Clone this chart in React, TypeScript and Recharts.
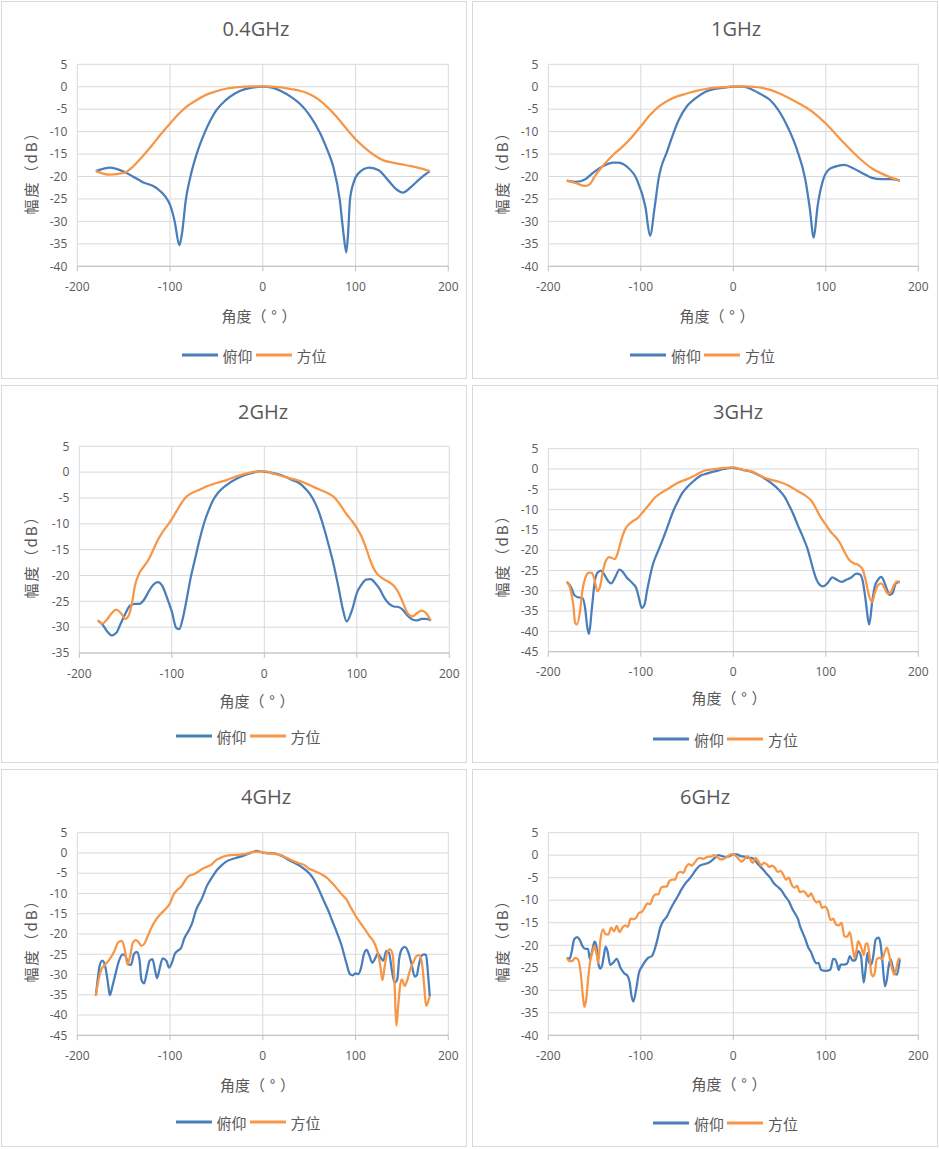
import React from 'react';
import { LineChart, Line, XAxis, YAxis, CartesianGrid } from 'recharts';

// ---- tick labels / categories ----
const xTicks = [-200, -100, 0, 100, 200];
const yTicks40 = [-40, -35, -30, -25, -20, -15, -10, -5, 0, 5];
const yTicks35 = [-35, -30, -25, -20, -15, -10, -5, 0, 5];
const yTicks45 = [-45, -40, -35, -30, -25, -20, -15, -10, -5, 0, 5];
const seriesNames = ['俯仰', '方位'];
const panelTitles = ['0.4GHz', '1GHz', '2GHz', '3GHz', '4GHz', '6GHz'];
const xTitleParts = ['角度（', '°', '）'];
const yTitle = '幅度（dB）';

// ---- 0.4GHz ----
const elev04Deg = [-180, -165, -150, -140, -130, -115, -105, -100, -95, -90, -87, -83, -78, -71, -63, -50, -40, -30, -20, -10, 0, 10, 20, 30, 40, 50, 62, 70, 76, 83, 87, 90, 92, 94, 98, 103, 115, 125, 135, 145, 151, 160, 170, 180];
const elev04Db = [-18.8, -18.0, -18.9, -20.0, -21.2, -22.5, -24.5, -26.3, -30.0, -35.3, -32.5, -25.2, -20.0, -14.8, -10.4, -5.2, -3.0, -1.5, -0.6, -0.15, 0, -0.2, -1.0, -2.2, -3.8, -6.2, -10.4, -14.3, -17.8, -25.2, -32.7, -36.9, -32.5, -25.2, -21.3, -19.3, -18.0, -18.6, -20.8, -23.0, -23.6, -22.3, -20.4, -18.8];
const azim04Deg = [-180, -165, -150, -140, -130, -120, -110, -100, -90, -80, -70, -60, -50, -40, -30, -20, -10, 0, 10, 20, 30, 40, 50, 60, 70, 80, 90, 100, 110, 120, 130, 140, 150, 160, 170, 180];
const azim04Db = [-18.8, -19.6, -19.2, -17.8, -15.6, -13.2, -10.6, -8.2, -5.9, -4.1, -2.8, -1.7, -1.0, -0.45, -0.15, 0, 0.1, 0.1, 0, -0.15, -0.5, -0.9, -1.6, -2.8, -4.6, -6.8, -9.3, -11.7, -13.6, -15.2, -16.4, -16.9, -17.3, -17.7, -18.2, -18.8];

// ---- 1GHz ----
const elev1Deg = [-180, -170, -160, -150, -140, -130, -125, -115, -104, -95, -90, -85, -81, -71, -59, -50, -41, -30, -20, -10, 0, 10, 20, 30, 40, 48, 55, 62, 69, 78, 82.5, 87, 91, 97, 103, 110, 120, 130, 140, 150, 160, 170, 180];
const elev1Db = [-20.9, -21.2, -20.6, -18.9, -17.6, -16.9, -16.9, -17.8, -20.8, -26.8, -33.2, -26.8, -20.8, -14.1, -7.4, -4.3, -2.6, -1.1, -0.5, -0.2, 0, 0, -0.6, -1.7, -3.0, -5.0, -7.4, -10.4, -14.1, -20.8, -26.8, -33.6, -26.8, -20.8, -18.5, -17.8, -17.4, -18.2, -19.3, -20.3, -20.6, -20.6, -20.9];
const azim1Deg = [-180, -170, -160, -155, -150, -140, -130, -120, -110, -100, -90, -80, -70, -60, -50, -40, -30, -20, -10, 0, 10, 20, 30, 40, 50, 60, 70, 80, 90, 100, 110, 120, 130, 140, 150, 160, 170, 180];
const azim1Db = [-20.9, -21.5, -22.1, -21.7, -20.0, -17.4, -15.2, -13.4, -11.3, -8.8, -6.3, -4.3, -3.0, -2.1, -1.5, -0.9, -0.5, -0.2, -0.1, 0.1, 0.1, 0, -0.2, -0.7, -1.5, -2.5, -3.6, -4.8, -6.3, -8.2, -10.4, -12.6, -14.7, -16.6, -18.2, -19.3, -20.2, -20.9];

// ---- 2GHz ----
const elev2Deg = [-180, -175, -170, -165, -160, -155, -150, -145, -140, -135, -130, -125, -120, -115, -110, -105, -100, -95, -92, -88, -84, -80, -75, -70, -65, -60, -55, -50, -40, -30, -20, -10, -5, 0, 10, 20, 30, 40, 45, 50, 55, 60, 65, 70, 75, 80, 85, 89, 95, 100, 105, 110, 115, 120, 125, 130, 135, 140, 145, 150, 155, 160, 165, 170, 175, 180];
const elev2Db = [-28.7, -29.5, -30.8, -31.6, -31.1, -29.2, -27.3, -25.8, -25.5, -25.5, -24.7, -23.1, -21.8, -21.3, -22.1, -24.4, -27.0, -30.2, -30.4, -28.2, -24.7, -20.8, -16.9, -13.1, -9.8, -7.3, -5.3, -4.0, -2.4, -1.3, -0.5, 0, 0.2, 0.1, -0.2, -0.7, -1.5, -2.4, -3.3, -4.4, -6.0, -8.2, -11.1, -14.4, -17.9, -22.1, -26.6, -28.9, -26.6, -23.4, -21.8, -20.8, -20.7, -21.5, -22.7, -24.4, -25.5, -26.0, -26.1, -26.7, -27.8, -28.5, -28.7, -28.4, -28.4, -28.7];
const azim2Deg = [-180, -175, -170, -165, -160, -155, -150, -147, -143, -140, -135, -130, -125, -120, -115, -110, -105, -100, -95, -90, -85, -80, -70, -60, -50, -40, -30, -20, -10, 0, 10, 20, 30, 40, 50, 60, 70, 75, 80, 85, 90, 95, 100, 105, 110, 115, 120, 125, 130, 135, 140, 145, 150, 155, 160, 165, 170, 175, 180];
const azim2Db = [-28.7, -29.3, -28.5, -27.3, -26.6, -27.3, -28.4, -27.9, -25.3, -22.1, -19.5, -18.2, -16.9, -15.0, -13.1, -11.6, -10.4, -9.1, -7.6, -6.1, -4.9, -4.2, -3.4, -2.6, -2.0, -1.5, -0.8, -0.3, 0.1, 0.2, -0.3, -0.8, -1.3, -1.8, -2.6, -3.4, -4.2, -4.8, -5.8, -7.1, -8.4, -9.5, -10.8, -12.4, -14.7, -17.3, -19.2, -20.2, -20.8, -21.3, -22.0, -23.3, -25.3, -27.3, -27.9, -27.3, -26.8, -27.3, -28.7];

// ---- 3GHz ----
const elev3Deg = [-180, -175, -172, -168, -163, -160, -158, -156, -153, -150, -147, -143, -140, -135, -132, -128, -123, -120, -115, -110, -105, -102, -99, -96, -93, -90, -87, -83, -80, -75, -70, -65, -60, -55, -50, -45, -40, -35, -30, -20, -10, -3, 0, 10, 20, 30, 40, 50, 55, 60, 65, 70, 75, 80, 85, 88, 92, 97, 102, 107, 112, 117, 122, 127, 133, 137, 140, 143, 146, 147, 150, 153, 157, 160, 163, 166, 169, 172, 176, 180];
const elev3Db = [-27.8, -29.3, -31.0, -31.6, -31.8, -34.6, -38.8, -40.6, -34.6, -28.1, -25.6, -25.0, -25.8, -27.7, -28.2, -26.8, -24.8, -25.2, -26.8, -27.9, -29.3, -31.8, -34.2, -33.4, -29.7, -26.4, -23.6, -21.1, -19.5, -16.6, -13.5, -10.4, -8.0, -5.9, -4.5, -3.4, -2.4, -1.6, -1.2, -0.6, 0, 0.3, 0.25, -0.2, -0.7, -1.8, -3.3, -5.3, -6.7, -8.8, -11.2, -14.0, -16.6, -19.5, -23.6, -26.0, -28.1, -28.9, -28.1, -26.7, -27.3, -27.8, -27.3, -26.8, -25.8, -26.0, -27.7, -32.2, -37.5, -38.3, -33.0, -28.9, -27.1, -26.6, -27.7, -29.6, -31.0, -30.6, -28.1, -27.8];
const azim3Deg = [-180, -176, -173, -171, -169, -166, -163, -160, -156, -153, -150, -147, -144, -141, -138, -134, -128, -125, -121, -117, -110, -103, -97, -90, -85, -80, -70, -60, -50, -40, -30, -20, -10, 0, 10, 20, 30, 40, 50, 60, 70, 80, 85, 90, 95, 100, 105, 110, 115, 120, 125, 130, 135, 140, 143, 147, 150, 153, 157, 160, 163, 167, 170, 174, 177, 180];
const azim3Db = [-27.7, -29.7, -33.4, -37.9, -38.3, -35.5, -29.7, -26.8, -25.5, -25.6, -27.3, -30.1, -28.9, -25.2, -22.7, -21.7, -22.2, -20.7, -17.4, -14.9, -13.1, -12.0, -10.4, -8.5, -7.1, -6.2, -4.8, -3.4, -2.5, -1.4, -0.3, 0, 0.25, 0.4, -0.2, -0.6, -1.8, -2.6, -3.2, -4.1, -5.5, -6.9, -8.0, -10.0, -12.1, -13.7, -15.4, -16.6, -18.1, -20.3, -22.3, -23.2, -23.6, -24.8, -27.3, -31.4, -32.8, -30.5, -28.5, -28.2, -29.1, -30.7, -30.4, -28.5, -27.7, -27.8];

// ---- 4GHz ----
const elev4Deg = [-180, -178, -176, -173, -170, -167, -165, -162, -158, -155, -151, -148, -145, -142, -139, -136, -133, -131, -128, -125, -122, -119, -116, -114, -111, -108, -104, -101, -98, -95, -92, -88, -85, -80, -76, -72, -66, -60, -55, -50, -45, -40, -30, -20, -10, -7, 0, 10, 15, 20, 30, 40, 50, 55, 60, 65, 70, 75, 80, 85, 90, 94, 97, 100, 103, 106, 109, 112, 115, 118, 121, 124, 127, 130, 133, 136, 139, 142, 145, 147, 150, 153, 157, 160, 164, 166, 168, 171, 174, 176, 178, 180];
const elev4Db = [-35.3, -31.2, -27.9, -26.6, -27.9, -32.0, -35.1, -32.8, -29.1, -26.6, -25.0, -25.4, -27.5, -27.6, -25.0, -24.4, -26.2, -31.2, -32.2, -29.5, -26.6, -26.2, -29.1, -30.9, -28.3, -26.0, -26.6, -28.3, -27.1, -25.0, -24.2, -23.4, -21.3, -19.2, -17.2, -14.1, -11.4, -8.0, -6.1, -4.4, -3.2, -2.2, -1.3, -0.6, 0.3, 0.5, 0.1, -0.1, -0.25, -0.7, -2.0, -3.2, -5.0, -6.5, -8.8, -11.4, -13.9, -16.8, -19.7, -22.9, -27.1, -29.9, -30.2, -29.7, -29.9, -28.3, -25.0, -23.9, -25.4, -27.1, -26.1, -24.8, -25.8, -26.6, -24.2, -24.6, -28.7, -32.0, -31.2, -26.2, -23.7, -23.2, -24.6, -27.1, -30.5, -30.2, -27.9, -25.4, -25.0, -25.2, -29.5, -35.3];
const azim4Deg = [-180, -177, -174, -170, -165, -160, -156, -152, -149, -146, -143, -140, -137, -134, -131, -128, -124, -120, -115, -110, -105, -100, -96, -92, -88, -84, -80, -75, -70, -65, -60, -55, -50, -45, -40, -30, -20, -10, -5, 0, 5, 10, 20, 25, 30, 35, 40, 45, 50, 55, 60, 65, 70, 75, 80, 85, 90, 95, 100, 105, 110, 115, 120, 124, 127, 129, 131, 134, 137, 140, 142, 144, 146, 148, 150, 153, 156, 159, 162, 166, 169, 172, 174, 176, 178, 180];
const azim4Db = [-35.3, -31.2, -28.7, -27.6, -26.2, -24.2, -22.1, -21.7, -23.7, -27.5, -25.4, -22.1, -21.5, -22.0, -22.9, -22.5, -20.5, -18.4, -16.4, -15.0, -13.9, -12.4, -10.2, -9.1, -8.3, -6.9, -5.7, -5.3, -4.7, -3.9, -3.4, -2.8, -1.7, -1.15, -0.7, -0.5, -0.3, 0.25, 0.3, 0.15, -0.1, -0.15, -0.6, -1.15, -1.7, -2.2, -2.6, -3.0, -3.9, -4.4, -4.9, -5.5, -6.3, -7.5, -8.8, -10.2, -11.4, -13.5, -15.5, -17.2, -18.8, -20.5, -22.1, -24.6, -28.3, -31.4, -28.7, -24.6, -23.8, -25.0, -32.0, -42.7, -37.7, -32.8, -31.2, -32.8, -31.2, -28.7, -27.1, -25.4, -25.2, -27.9, -32.8, -37.7, -36.9, -35.3];

// ---- 6GHz ----
const elev6Deg = [-180, -177, -175, -172, -169, -166, -163, -160, -157, -155, -153, -150, -148, -146, -144, -142, -140, -138, -136, -133, -130, -126, -122, -118, -114, -112, -110, -108, -105, -102, -99, -95, -92, -88, -85, -82, -79, -75, -72, -68, -64, -60, -56, -52, -48, -44, -40, -36, -32, -28, -24, -20, -16, -12, -8, -4, 0, 4, 8, 12, 16, 20, 24, 28, 32, 36, 40, 44, 48, 52, 56, 60, 64, 68, 70, 72, 75, 78, 81, 84, 87, 90, 92, 95, 100, 105, 108, 110, 112, 114, 116, 119, 123, 126, 129, 132, 135, 138, 141, 143, 145, 147, 149, 151, 154, 157, 159, 161, 164, 166, 168, 170, 172, 174, 177, 180];
const elev6Db = [-22.8, -23.0, -21.7, -18.7, -18.2, -18.8, -20.2, -20.8, -20.8, -23.1, -21.7, -19.2, -20.2, -23.9, -25.2, -24.6, -22.4, -20.3, -21.3, -24.4, -23.9, -23.0, -25.0, -26.2, -26.9, -28.3, -31.3, -32.5, -29.8, -26.1, -24.8, -23.5, -22.8, -22.4, -20.9, -18.7, -16.1, -14.4, -13.7, -12.0, -10.5, -9.1, -7.6, -6.3, -5.4, -4.3, -3.1, -2.3, -2.0, -1.8, -1.3, -0.6, 0, -0.2, -0.4, -0.2, 0.2, 0.2, -0.2, -0.3, -0.6, -0.6, -1.3, -2.3, -3.1, -4.1, -5.0, -6.3, -7.0, -7.8, -9.1, -10.2, -12.0, -13.4, -14.2, -15.7, -17.2, -18.7, -20.5, -21.5, -23.1, -24.0, -23.9, -25.5, -25.7, -25.4, -23.0, -23.1, -24.0, -25.5, -24.3, -24.3, -24.1, -22.4, -23.4, -23.3, -21.3, -22.4, -28.3, -25.4, -21.7, -23.9, -24.3, -22.8, -18.7, -18.3, -19.4, -23.1, -29.1, -27.6, -24.6, -23.1, -24.5, -26.1, -26.5, -23.1];
const azim6Deg = [-180, -177, -174, -171, -168, -165, -163, -161, -159, -157, -155, -152, -150, -148, -146, -144, -141, -138, -135, -132, -129, -126, -123, -120, -117, -114, -111, -108, -105, -102, -99, -96, -93, -90, -87, -84, -81, -78, -75, -72, -69, -66, -63, -60, -57, -54, -51, -48, -45, -42, -39, -36, -33, -30, -27, -24, -21, -18, -15, -12, -9, -6, -3, 0, 3, 6, 9, 12, 15, 18, 21, 24, 27, 30, 33, 36, 39, 42, 45, 48, 51, 54, 57, 60, 63, 66, 69, 72, 75, 78, 81, 84, 87, 90, 93, 96, 99, 102, 105, 108, 111, 114, 117, 120, 123, 126, 129, 131, 133, 135, 137, 139, 141, 143, 145, 147, 149, 151, 153, 155, 158, 161, 164, 166, 168, 171, 174, 176, 178, 180];
const azim6Db = [-22.8, -23.5, -23.5, -22.8, -23.1, -26.1, -30.5, -33.7, -32.0, -27.6, -23.9, -21.3, -20.2, -21.7, -23.9, -19.4, -16.5, -17.6, -17.6, -16.1, -16.9, -15.7, -17.1, -16.1, -15.6, -15.9, -14.1, -14.2, -13.9, -12.8, -12.6, -11.7, -10.7, -10.9, -9.4, -8.7, -8.7, -7.2, -7.0, -7.0, -5.7, -5.4, -5.4, -4.0, -3.7, -3.9, -2.6, -2.0, -2.3, -1.7, -0.9, -0.6, -0.8, -0.6, -0.3, -0.3, 0, -0.3, -0.8, -0.9, -0.6, -0.3, 0.2, 0.2, -0.2, -0.9, -1.4, -0.9, -0.2, -0.8, -1.7, -0.6, -1.3, -2.3, -1.7, -2.0, -2.6, -2.3, -2.8, -3.7, -3.5, -4.3, -5.4, -5.0, -6.5, -7.2, -6.8, -8.2, -8.0, -8.3, -9.2, -8.5, -9.7, -10.5, -10.2, -11.7, -11.4, -12.2, -14.4, -14.1, -15.4, -15.6, -15.0, -18.0, -18.1, -17.1, -20.5, -22.8, -21.3, -19.1, -19.8, -20.9, -22.2, -19.8, -19.6, -21.9, -26.1, -26.9, -26.1, -23.1, -22.8, -23.1, -21.3, -20.5, -21.7, -24.6, -26.5, -25.4, -23.5, -22.8];

// ---- styling ----
const FONT = '"Open Sans", "Noto Sans CJK SC", sans-serif';
const CJK = '"Noto Sans CJK SC", sans-serif';
const TEXT = '#595959';
const BLUE = '#4A7EBB';
const ORANGE = '#F79646';
const GRID = '#D9D9D9';
const AXIS = '#BFBFBF';
const W = 466;
const H = 378;
const Y_AXIS_W = 40;
const X_AXIS_H = 30;

type Pt = { x: number; y: number };
const toPoints = (deg: number[], db: number[]): Pt[] => deg.map((x, i) => ({ x, y: db[i] }));

// layout of each panel (relative to the panel box)
const layouts = [
  { left: 1, top: 1, plot: [76.3, 63.3, 447.3, 265.3], title: [255, 27], xt: [258, 314], yt: [29, 168], lg: [254.5, 354] },
  { left: 472, top: 1, plot: [76.3, 63.3, 446.3, 265.3], title: [264, 27], xt: [245, 314], yt: [29, 168], lg: [232, 354] },
  { left: 1, top: 385, plot: [78.3, 61.3, 448.3, 268], title: [262, 25.7], xt: [256, 314.7], yt: [29, 168], lg: [248.5, 351] },
  { left: 472, top: 385, plot: [76.3, 63.7, 446.3, 266.7], title: [266, 25.7], xt: [257, 312], yt: [29, 167], lg: [255, 354] },
  { left: 1, top: 769, plot: [76.3, 63.7, 447.3, 266.3], title: [265, 27], xt: [256.5, 315], yt: [29, 168], lg: [248.5, 353] },
  { left: 472, top: 769, plot: [76.3, 63.7, 446.3, 266.3], title: [233, 27], xt: [257, 313.7], yt: [29, 168], lg: [255, 354] },
];

const panels = [
  { title: panelTitles[0], yTicks: yTicks40, elev: toPoints(elev04Deg, elev04Db), azim: toPoints(azim04Deg, azim04Db) },
  { title: panelTitles[1], yTicks: yTicks40, elev: toPoints(elev1Deg, elev1Db), azim: toPoints(azim1Deg, azim1Db) },
  { title: panelTitles[2], yTicks: yTicks35, elev: toPoints(elev2Deg, elev2Db), azim: toPoints(azim2Deg, azim2Db) },
  { title: panelTitles[3], yTicks: yTicks45, elev: toPoints(elev3Deg, elev3Db), azim: toPoints(azim3Deg, azim3Db) },
  { title: panelTitles[4], yTicks: yTicks45, elev: toPoints(elev4Deg, elev4Db), azim: toPoints(azim4Deg, azim4Db) },
  { title: panelTitles[5], yTicks: yTicks40, elev: toPoints(elev6Deg, elev6Db), azim: toPoints(azim6Deg, azim6Db) },
];

const tickStyle = { fill: TEXT, fontSize: 12, fontFamily: FONT };

const LegendItem: React.FC<{ color: string; label: string }> = ({ color, label }) => (
  <span style={{ display: 'inline-flex', alignItems: 'center' }}>
    <span style={{ display: 'inline-block', width: 36, height: 2.5, background: color, marginRight: 5 }} />
    <span style={{ fontFamily: CJK, fontSize: 15, color: TEXT, marginRight: 3 }}>{label}</span>
  </span>
);

const Panel: React.FC<{ idx: number }> = ({ idx }) => {
  const p = panels[idx];
  const l = layouts[idx];
  const [x0, y0, x1, y1] = l.plot;
  const margin = { top: y0, left: x0 - Y_AXIS_W, right: W - x1, bottom: H - y1 - X_AXIS_H };
  const yMin = p.yTicks[0];
  const yMax = p.yTicks[p.yTicks.length - 1];

  return (
    <div style={{ position: 'absolute', left: l.left, top: l.top, width: W, height: H }}>
      <div style={{ position: 'absolute', left: 0, top: 0, width: W, height: H, border: `1px solid ${GRID}`, boxSizing: 'border-box' }} />
      <div style={{ position: 'absolute', left: 0, top: 0 }}>
        <LineChart width={W} height={H} margin={margin}>
          <CartesianGrid stroke={GRID} />
          <XAxis
            type="number"
            dataKey="x"
            domain={[-200, 200]}
            ticks={xTicks}
            interval={0}
            height={X_AXIS_H}
            stroke={AXIS}
            tickSize={5}
            tickMargin={11}
            tick={tickStyle}
          />
          <YAxis
            type="number"
            domain={[yMin, yMax]}
            ticks={p.yTicks}
            interval={0}
            width={Y_AXIS_W}
            axisLine={false}
            tickLine={false}
            tickSize={0}
            tickMargin={10}
            tick={tickStyle}
          />
          <Line data={p.elev} dataKey="y" name={seriesNames[0]} type="monotone" stroke={BLUE} strokeWidth={2.25} dot={false} activeDot={false} isAnimationActive={false} />
          <Line data={p.azim} dataKey="y" name={seriesNames[1]} type="monotone" stroke={ORANGE} strokeWidth={2.25} dot={false} activeDot={false} isAnimationActive={false} />
        </LineChart>
      </div>
      <div style={{ position: 'absolute', left: l.title[0], top: l.title[1], transform: 'translate(-50%, -50%)', fontFamily: FONT, fontSize: 20, color: TEXT, whiteSpace: 'nowrap' }}>
        {p.title}
      </div>
      <div style={{ position: 'absolute', left: l.xt[0], top: l.xt[1], transform: 'translate(-50%, -50%)', fontFamily: CJK, fontSize: 15, color: TEXT, whiteSpace: 'nowrap' }}>
        {xTitleParts[0]}
        <span style={{ display: 'inline-block', width: 15, textAlign: 'center' }}>{xTitleParts[1]}</span>
        {xTitleParts[2]}
      </div>
      <div style={{ position: 'absolute', left: l.yt[0], top: l.yt[1], transform: 'translate(-50%, -50%) rotate(-90deg)', fontFamily: CJK, fontSize: 15, color: TEXT, whiteSpace: 'nowrap', letterSpacing: 2 }}>
        {yTitle}
      </div>
      <div style={{ position: 'absolute', left: l.lg[0], top: l.lg[1], transform: 'translate(-50%, -50%)', display: 'flex', whiteSpace: 'nowrap' }}>
        <LegendItem color={BLUE} label={seriesNames[0]} />
        <LegendItem color={ORANGE} label={seriesNames[1]} />
      </div>
    </div>
  );
};

export default function App() {
  return (
    <div style={{ position: 'absolute', left: 0, top: 0, width: 939, height: 1149, background: '#fff' }}>
      {panels.map((_, i) => (
        <Panel key={i} idx={i} />
      ))}
    </div>
  );
}
